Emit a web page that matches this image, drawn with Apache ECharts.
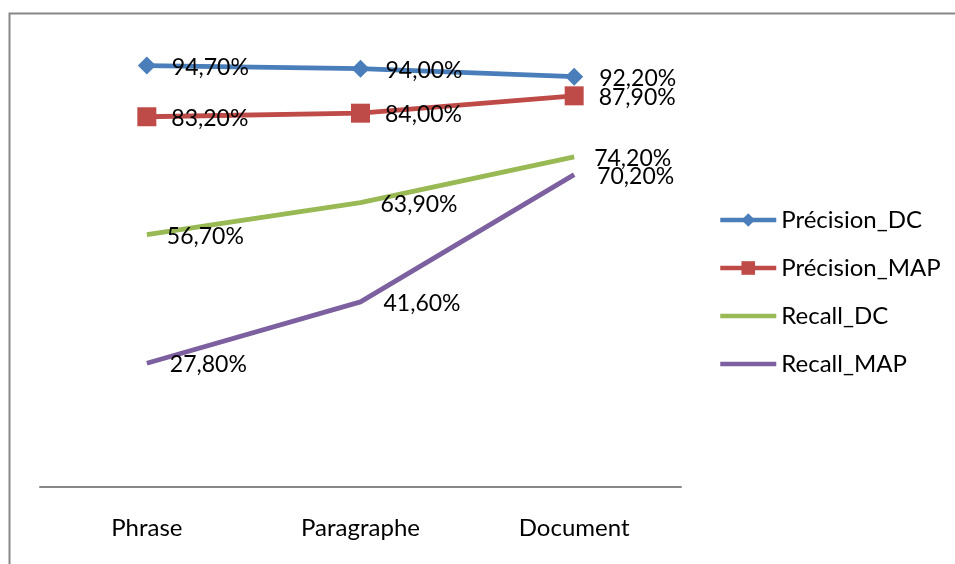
<!DOCTYPE html>
<html>
<head>
<meta charset="utf-8">
<script src="https://cdn.jsdelivr.net/npm/echarts@6/dist/echarts.min.js"></script>
<style>html,body{margin:0;padding:0;background:#fff}#c{width:955px;height:564px}</style>
</head>
<body>
<div id="c"></div>
<script>
const categories = ['Phrase', 'Paragraphe', 'Document'];
const precisionDC = [94.7, 94.0, 92.2];
const precisionMAP = [83.2, 84.0, 87.9];
const recallDC = [56.7, 63.9, 74.2];
const recallMAP = [27.8, 41.6, 70.2];
const seriesNames = ['Précision_DC', 'Précision_MAP', 'Recall_DC', 'Recall_MAP'];

const FONT = 'Lato';
function fmt(p) { return p.value.toFixed(2).replace('.', ',') + '%'; }
function lbl(dist) {
  return { show: true, position: 'right', distance: dist, offset: [0, 1.5], formatter: fmt,
           color: '#000', fontFamily: FONT, fontSize: 23 };
}

const chart = echarts.init(document.getElementById('c'), null, { renderer: 'canvas' });
chart.setOption({
  animation: false,
  backgroundColor: '#fff',
  graphic: [{
    type: 'rect', silent: true, z: 100,
    shape: { x: 9.5, y: 13.5, width: 1000, height: 600 },
    style: { fill: 'none', stroke: '#878787', lineWidth: 2 }
  }],
  grid: { left: 40, right: 274, top: 42, bottom: 77 },
  legend: {
    orient: 'vertical', left: 718, top: 208, padding: 0,
    itemWidth: 56, itemHeight: 17, itemGap: 24,
    lineStyle: { width: 4.5 },
    textStyle: { fontFamily: FONT, fontSize: 24, color: '#000' },
    data: seriesNames
  },
  xAxis: {
    type: 'category', data: categories, boundaryGap: true,
    axisLine: { show: true, lineStyle: { color: '#878787', width: 2 } },
    axisTick: { show: false },
    axisLabel: { fontFamily: FONT, fontSize: 24, color: '#000', margin: 29 },
    splitLine: { show: false }
  },
  yAxis: { type: 'value', min: 0, max: 100, show: false, splitLine: { show: false } },
  series: [
    { name: seriesNames[0], type: 'line', data: precisionDC, symbol: 'diamond', symbolSize: 18,
      lineStyle: { color: '#4A7EBB', width: 4.8 }, itemStyle: { color: '#4A7EBB' }, label: lbl(16), z: 4 },
    { name: seriesNames[1], type: 'line', data: precisionMAP, symbol: 'rect', symbolSize: 19,
      lineStyle: { color: '#BE4B48', width: 4.8 }, itemStyle: { color: '#BE4B48' }, label: lbl(15), z: 3 },
    { name: seriesNames[2], type: 'line', data: recallDC, symbol: 'circle', symbolSize: 2,
      lineStyle: { color: '#98B954', width: 4.8 }, itemStyle: { color: 'rgba(0,0,0,0)' }, label: lbl(19), z: 2 },
    { name: seriesNames[3], type: 'line', data: recallMAP, symbol: 'circle', symbolSize: 2,
      lineStyle: { color: '#7D60A0', width: 4.8 }, itemStyle: { color: 'rgba(0,0,0,0)' }, label: lbl(22), z: 1 }
  ]
});
</script>
</body>
</html>
